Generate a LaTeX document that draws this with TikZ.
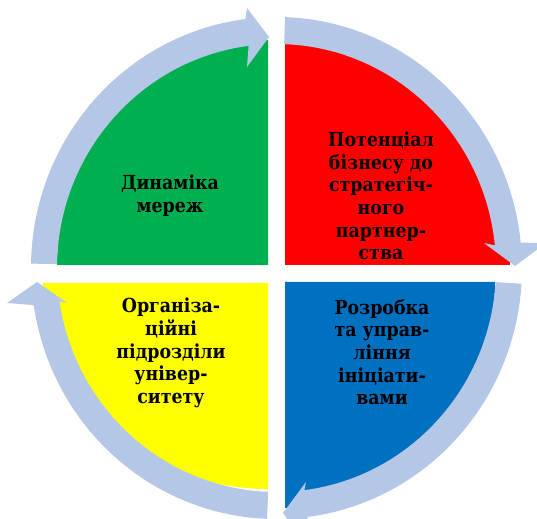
\documentclass[tikz,border=0pt]{standalone}
\usepackage{fontspec}
\setmainfont{DejaVu Serif Condensed}
\usepackage{tikz}
\usetikzlibrary{calc}
\definecolor{ringblue}{HTML}{B4C7E7}
\definecolor{quadgreen}{HTML}{00B050}
\definecolor{quadred}{HTML}{FF0000}
\definecolor{quadyellow}{HTML}{FFFF00}
\definecolor{quadblue}{HTML}{0070C0}
\tikzset{
  ringfill/.style = {fill=ringblue},
  quadtext/.style = {font=\bfseries\fontsize{14.5}{17}\selectfont,align=center,text=black,inner sep=0pt}
}
% #1 start angle, #2 angle of arrow base, #3 inner barb, #4 tip, #5 outer barb
\newcommand{\ringarrow}[5]{%
  \fill[ringfill] ($(cen)+(#1:219.5 and 224)$)
    arc[start angle=#1,end angle=#2,x radius=219.5,y radius=224]
    -- #3 -- #4 -- #5 -- ($(cen)+(#2:245.5 and 251)$)
    arc[start angle=#2,end angle=#1,x radius=245.5,y radius=251] -- cycle;
}

\begin{document}
\begin{tikzpicture}[x=0.75pt,y=0.75pt]
  \useasboundingbox (0,0) rectangle (537,519);
  \clip (0,0) rectangle (537,519);
  \coordinate (cen) at (276.5,251);
  % quadrants
  \fill[quadgreen]  (268,254) -- (57,254) arc[start angle=180,end angle=90,x radius=211,y radius=225] -- cycle;
  \fill[quadred]    (285,254) -- (285,476) arc[start angle=90,end angle=0,x radius=225,y radius=222] -- cycle;
  \fill[quadyellow] (268,236) -- (43,236) arc[start angle=180,end angle=270,x radius=225,y radius=206] -- cycle;
  \fill[quadblue]   (285,237) -- (495,237) arc[start angle=0,end angle=-90,x radius=210,y radius=226] -- cycle;
  % ring of arrows
  \ringarrow{179}{97.3}{(247,452)}{(269,482)}{(247,511)}
  \ringarrow{88}{5.8}{(484,276)}{(515,253)}{(546,276)}
  \ringarrow{-3.6}{-82.7}{(306,37)}{(283,6)}{(306,-25)}
  \ringarrow{267.8}{188.5}{(67,216)}{(37,237)}{(7,216)}
  % labels
  \node[quadtext] (dyn) at (170,323) {Динаміка\\мереж};
  \node[quadtext] (pot) at (381,323) {Потенціал\\бізнесу до\\стратегіч-\\ного\\партнер-\\ства};
  \node[quadtext] (org) at (171,166) {Організа-\\ційні\\підрозділи\\універ-\\ситету};
  \node[quadtext] (roz) at (382,167) {Розробка\\та управ-\\ління\\ініціати-\\вами};
\end{tikzpicture}
\end{document}
